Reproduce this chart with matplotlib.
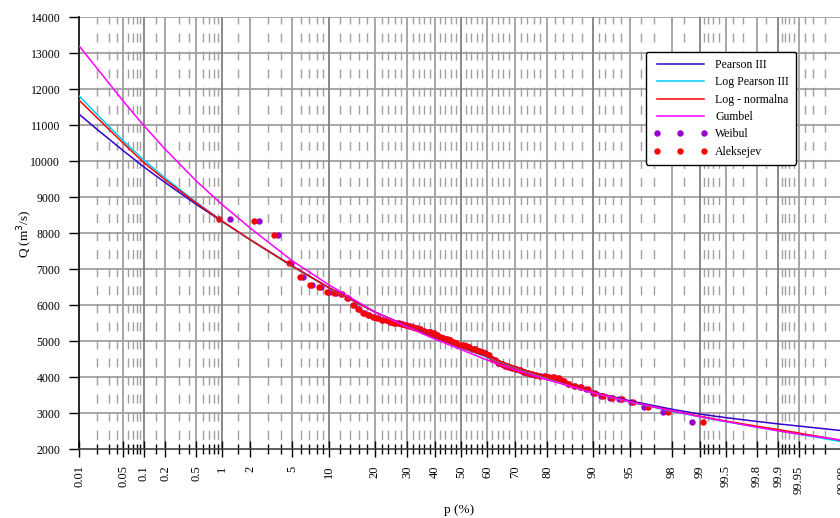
import numpy as np
import matplotlib
matplotlib.use("Agg")
import matplotlib.pyplot as plt
from statistics import NormalDist

plt.rcParams['font.family'] = ['Liberation Serif', 'DejaVu Serif']

# exceedance probability (%) where the fitted curves were read
p_curve = [0.01, 0.02, 0.05, 0.1, 0.2, 0.5, 1, 2, 5, 10, 20, 30, 40, 50,
           60, 70, 80, 90, 95, 98, 99, 99.5, 99.8, 99.9, 99.95, 99.99]
q_pearson3 = [11310, 10880, 10300, 9850, 9405, 8800, 8330, 7827, 7100, 6485,
              5820, 5430, 5110, 4830, 4580, 4290, 3990, 3600, 3346, 3113,
              2977, 2880, 2775, 2705, 2645, 2515]
q_logpearson3 = [11820, 11290, 10580, 10040, 9530, 8860, 8340, 7818, 7082, 6472,
                 5810, 5415, 5095, 4815, 4560, 4280, 3975, 3580, 3310, 3055,
                 2900, 2770, 2620, 2520, 2420, 2205]
q_lognormal = [11700, 11200, 10510, 9970, 9480, 8840, 8340, 7823, 7090, 6480,
               5815, 5420, 5100, 4825, 4575, 4295, 3990, 3595, 3323, 3069,
               2917, 2787, 2642, 2547, 2450, 2240]
q_gumbel = [13210, 12570, 11680, 11000, 10330, 9450, 8800, 8150, 7240, 6560,
            5820, 5400, 5060, 4770, 4480, 4210, 3930, 3575, 3320, 3070,
            2905, 2775, 2615, 2510, 2420, 2250]

# observed series, sorted descending (m = 1..n)
q_obs = [8400, 8350, 7960, 7170, 6800, 6560, 6500, 6360, 6350, 6320,
         6200, 6010, 5890, 5780, 5720, 5680, 5650, 5600, 5580, 5550,
         5520, 5500, 5480, 5460, 5430, 5410, 5370, 5340, 5300, 5270,
         5250, 5220, 5180, 5130, 5100, 5060, 5030, 4990, 4950, 4910,
         4890, 4860, 4830, 4800, 4780, 4740, 4710, 4680, 4620, 4520,
         4470, 4410, 4370, 4320, 4290, 4250, 4220, 4190, 4160, 4120,
         4090, 4060, 4040, 4030, 4010, 4000, 3970, 3900, 3820, 3750,
         3720, 3665, 3555, 3480, 3430, 3400, 3305, 3166, 3045, 2767]

major_p = [0.01, 0.05, 0.1, 0.2, 0.5, 1, 2, 5, 10, 20, 30, 40, 50, 60, 70,
           80, 90, 95, 98, 99, 99.5, 99.8, 99.9, 99.95, 99.99]
major_labels = ['0.01', '0.05', '0.1', '0.2', '0.5', '1', '2', '5', '10', '20',
                '30', '40', '50', '60', '70', '80', '90', '95', '98', '99',
                '99.5', '99.8', '99.9', '99.95', '99.99']
minor_p = [0.02, 0.03, 0.04, 0.06, 0.07, 0.08, 0.09, 0.15, 0.3, 0.4,
           0.6, 0.7, 0.8, 0.9, 1.5, 3, 4, 6, 7, 8, 9,
           12, 14, 16, 18, 22, 24, 26, 28, 32, 34, 36, 38, 42, 44, 46, 48,
           52, 54, 56, 58, 62, 64, 66, 68, 72, 74, 76, 78, 82, 84, 86, 88,
           91, 92, 93, 94, 96, 97, 98.5, 99.1, 99.2, 99.3, 99.4, 99.6, 99.7,
           99.85, 99.91, 99.92, 99.93, 99.94, 99.96, 99.97, 99.98]
dark_p = [0.1, 1, 10, 50, 90, 99, 99.9]

ND = NormalDist()
_ppf = np.vectorize(ND.inv_cdf, otypes=[float])
_cdf = np.vectorize(ND.cdf, otypes=[float])


def fwd(p):
    p = np.clip(np.asarray(p, dtype=float), 1e-6, 100 - 1e-6)
    return _ppf(p / 100.0)


def inv(z):
    return _cdf(np.asarray(z, dtype=float)) * 100.0


n = len(q_obs)
m = np.arange(1, n + 1)
p_weibul = m / (n + 1) * 100                # Weibull plotting position
p_aleksejev = (m - 0.25) / (n + 0.5) * 100  # Alekseev plotting position

fig = plt.figure(figsize=(8.4, 5.18), dpi=100)
ax = fig.add_axes([79 / 840, 68.7 / 518, 764 / 840, 432 / 518])
ax.set_xscale('function', functions=(fwd, inv))
ax.set_xlim(0.01, 99.99)
ax.set_ylim(2000, 14000)

grid_c = '#a0a0a0'
for y in range(3000, 14001, 1000):
    ax.axhline(y, color=grid_c, lw=1.3, zorder=1)
for p in major_p[1:]:
    c = '#808080' if p in dark_p else grid_c
    ax.axvline(p, color=c, lw=1.3, zorder=1)
for p in minor_p:
    ax.plot([p, p], [14000, 2000], color=grid_c, lw=1.0,
            linestyle=(1.5, (6.5, 6.5)), zorder=1)

ax.plot(p_weibul, q_obs, 'o', color='#9900cc', ms=4.6, mew=0,
        label='Weibul', zorder=3)
ax.plot(p_aleksejev, q_obs, 'o', color='#ff0000', ms=4.6, mew=0,
        label='Aleksejev', zorder=3)

ax.plot(p_curve, q_pearson3, color='#3300cc', lw=1.1, label='Pearson III', zorder=4)
ax.plot(p_curve, q_logpearson3, color='#00ccff', lw=1.1, label='Log Pearson III', zorder=4)
ax.plot(p_curve, q_lognormal, color='#ff0000', lw=1.1, label='Log - normalna', zorder=4)
ax.plot(p_curve, q_gumbel, color='#ff00ff', lw=1.1, label='Gumbel', zorder=4)

ax.set_xticks(major_p)
ax.set_xticklabels(major_labels, rotation=90, va='top', ha='center')
ax.set_xticks(minor_p, minor=True)
ax.tick_params(axis='x', which='major', direction='inout', length=11, width=1,
               labelsize=9, pad=6)
ax.tick_params(axis='x', which='minor', direction='inout', length=7, width=1)
ax.set_yticks(range(2000, 14001, 1000))
ax.tick_params(axis='y', direction='out', length=7, width=1, labelsize=8.5, pad=6.5)

for s in ['top', 'right']:
    ax.spines[s].set_visible(False)
ax.spines['left'].set_linewidth(1.2)
ax.spines['bottom'].set_linewidth(1.2)
ax.spines['bottom'].set_color('#404040')

ax.set_xlabel('p (%)', fontsize=9.5)
ax.xaxis.set_label_coords(0.497, -0.127)
ax.set_ylabel('Q (m$^3$/s)', fontsize=9.5, labelpad=-3)

handles, labels = ax.get_legend_handles_labels()
order = [2, 3, 4, 5, 0, 1]
leg = ax.legend([handles[i] for i in order], [labels[i] for i in order],
                loc='upper right', bbox_to_anchor=(0.9385, 0.9197),
                borderaxespad=0, fontsize=8.5, numpoints=3, handlelength=4.6,
                handletextpad=0.65, borderpad=0.6, labelspacing=0.45,
                fancybox=True, framealpha=1, edgecolor='black')
leg.get_frame().set_linewidth(1.0)
leg.set_zorder(6)

fig.savefig('out.png', dpi=100)
